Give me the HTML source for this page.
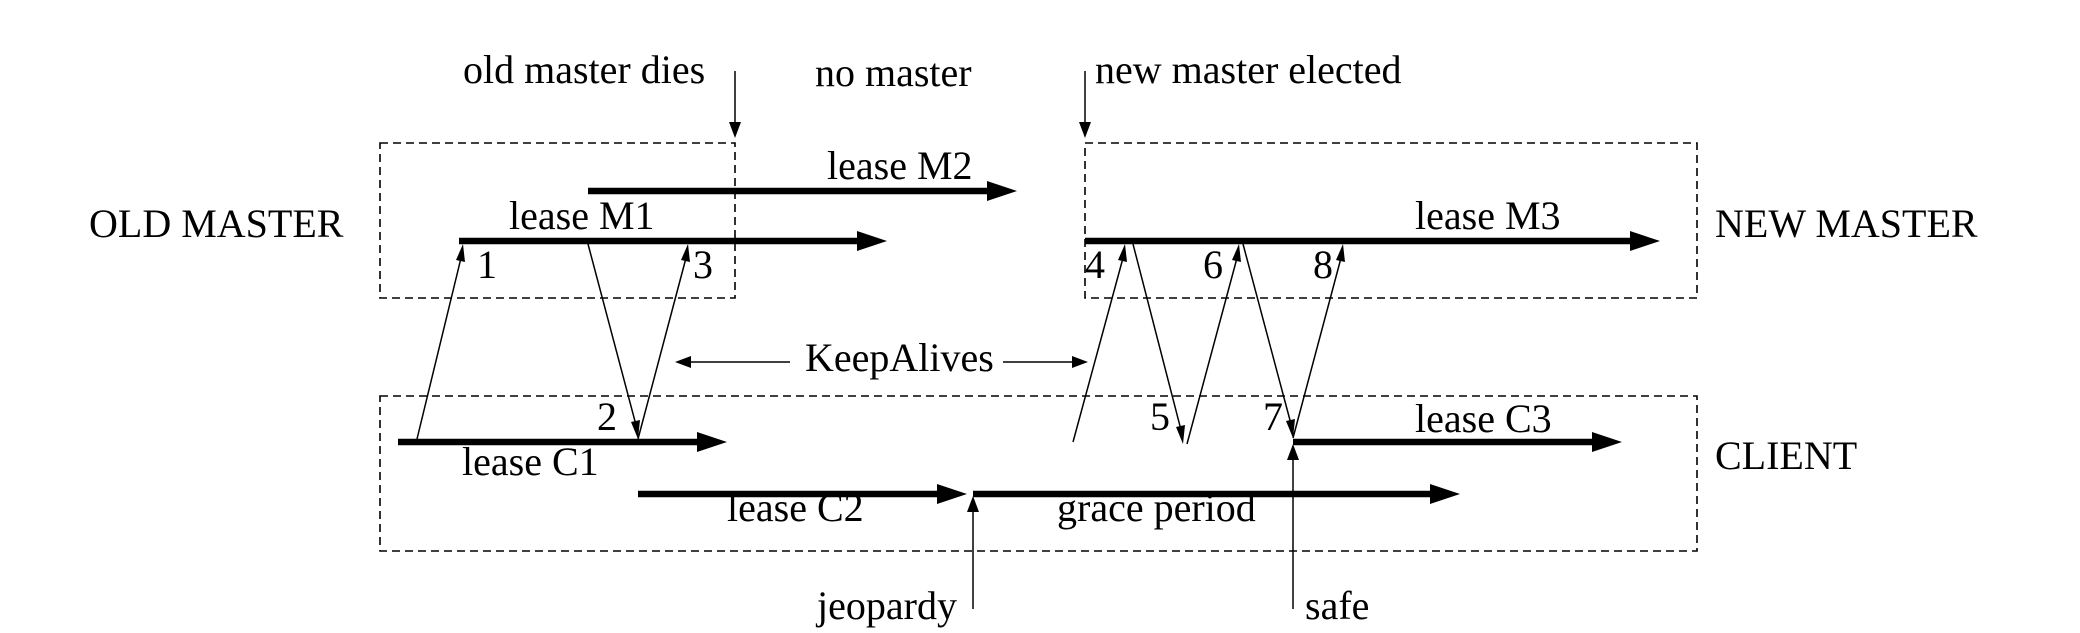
<!DOCTYPE html>
<html><head><meta charset="utf-8"><style>html,body{margin:0;padding:0;background:#fff}svg{display:block}</style></head>
<body>
<svg width="2080" height="633" viewBox="0 0 2080 633" xmlns="http://www.w3.org/2000/svg" font-family="'Liberation Serif', serif" font-size="40" fill="#000">
<defs>
<marker id="big" markerWidth="10" markerHeight="10" refX="10" refY="5" orient="auto" markerUnits="userSpaceOnUse" viewBox="0 0 10 10">
</marker>
</defs>
<g fill="none" stroke="#000" stroke-width="1.6" stroke-dasharray="8,5">
<rect x="380" y="143" width="355" height="155"/>
<rect x="1085" y="143" width="612" height="155"/>
<rect x="380" y="396" width="1317" height="155"/>
</g>
<!-- thick bars -->
<g stroke="#000" stroke-width="6.5">
<line x1="588" y1="191" x2="990" y2="191"/>
<line x1="459" y1="241" x2="860" y2="241"/>
<line x1="1085" y1="241" x2="1633" y2="241"/>
<line x1="398" y1="442" x2="700" y2="442"/>
<line x1="638" y1="494" x2="940" y2="494"/>
<line x1="973" y1="494" x2="1433" y2="494"/>
<line x1="1293" y1="442" x2="1595" y2="442"/>
</g>
<g fill="#000">
<polygon points="987,181 1017,191 987,201"/>
<polygon points="857,231 887,241 857,251"/>
<polygon points="1630,231 1660,241 1630,251"/>
<polygon points="697,432 727,442 697,452"/>
<polygon points="937,484 967,494 937,504"/>
<polygon points="1430,484 1460,494 1430,504"/>
<polygon points="1592,432 1622,442 1592,452"/>
</g>
<!-- thin arrows -->
<g stroke="#000" stroke-width="1.5" fill="none">
<line x1="735" y1="71" x2="735" y2="125"/>
<line x1="1085" y1="71" x2="1085" y2="125"/>
<line x1="417" y1="439" x2="461" y2="258"/>
<line x1="588" y1="244" x2="636" y2="425"/>
<line x1="638" y1="439" x2="686" y2="258"/>
<line x1="688" y1="362" x2="790" y2="362"/>
<line x1="1003" y1="362" x2="1075" y2="362"/>
<line x1="1073" y1="442" x2="1123" y2="258"/>
<line x1="1133" y1="244" x2="1181" y2="430"/>
<line x1="1187" y1="444" x2="1237" y2="258"/>
<line x1="1243" y1="244" x2="1291" y2="424"/>
<line x1="1293" y1="438" x2="1341" y2="258"/>
<line x1="973" y1="609" x2="973" y2="510"/>
<line x1="1293" y1="609" x2="1293" y2="458"/>
</g>
<g fill="#000">
<polygon points="729,122 741,122 735,138"/>
<polygon points="1079,122 1091,122 1085,138"/>
<polygon points="463,244 465,262 456,260"/>
<polygon points="638,439 631,422 640,420"/>
<polygon points="688,244 690,262 681,260"/>
<polygon points="675,362 691,356 691,368"/>
<polygon points="1088,362 1072,356 1072,368"/>
<polygon points="1125,244 1127,262 1118,260"/>
<polygon points="1183,444 1176,427 1185,425"/>
<polygon points="1239,244 1241,262 1232,260"/>
<polygon points="1293,438 1286,421 1295,419"/>
<polygon points="1343,244 1345,262 1336,260"/>
<polygon points="973,496 967,512 979,512"/>
<polygon points="1293,444 1287,460 1299,460"/>
</g>
<g>
<text x="463" y="83">old master dies</text>
<text x="815" y="86">no master</text>
<text x="1095" y="83">new master elected</text>
<text x="827" y="179">lease M2</text>
<text x="509" y="229">lease M1</text>
<text x="1415" y="229">lease M3</text>
<text x="89" y="237">OLD MASTER</text>
<text x="1715" y="237">NEW MASTER</text>
<text x="1715" y="469">CLIENT</text>
<text x="477" y="278">1</text>
<text x="693" y="278">3</text>
<text x="597" y="430">2</text>
<text x="1085" y="278">4</text>
<text x="1150" y="430">5</text>
<text x="1203" y="278">6</text>
<text x="1263" y="430">7</text>
<text x="1313" y="278">8</text>
<text x="805" y="371">KeepAlives</text>
<text x="462" y="475">lease C1</text>
<text x="727" y="521">lease C2</text>
<text x="1057" y="521">grace period</text>
<text x="1415" y="432">lease C3</text>
<text x="817" y="619">jeopardy</text>
<text x="1305" y="619">safe</text>
</g>
</svg>
</body></html>
